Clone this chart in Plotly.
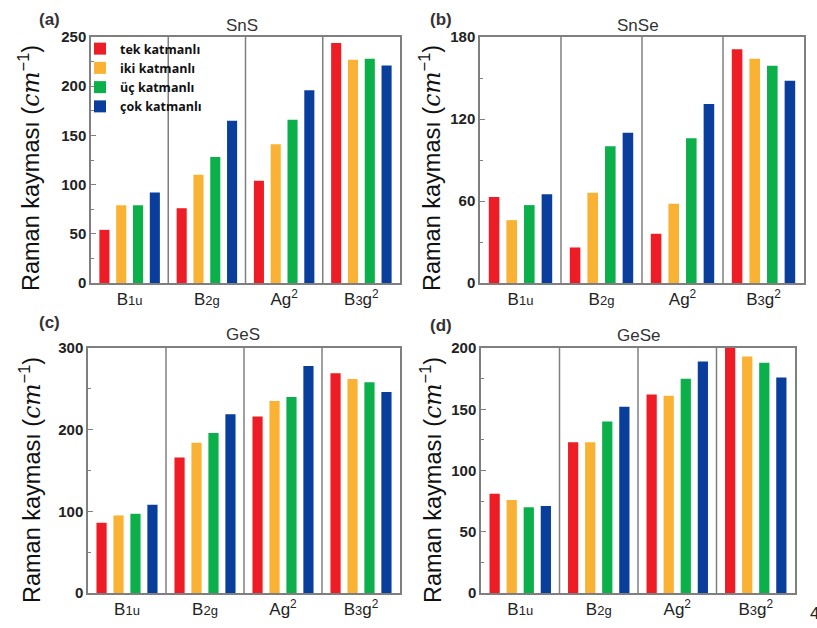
import plotly.graph_objects as go

categories = ["B1u", "B2g", "Ag2", "B3g2"]
tick_labels = ["B<span style='font-size:13px'>1u</span>",
               "B<span style='font-size:13px'>2g</span>",
               "Ag<sup>2</sup>",
               "B<span style='font-size:13px'>3</span>g<sup>2</sup>"]
series_names = ["tek katmanlı", "iki katmanlı", "üç katmanlı", "çok katmanlı"]
colors = ["#ee1c25", "#f9b233", "#0cb04a", "#0a3e9c"]

panel_titles = ["SnS", "SnSe", "GeS", "GeSe"]
panel_labels = ["(a)", "(b)", "(c)", "(d)"]

# values per panel: rows = series (tek, iki, üç, çok), columns = categories
sns_tek = [54, 76, 104, 244]
sns_iki = [79, 110, 141, 227]
sns_uc = [79, 128, 166, 228]
sns_cok = [92, 165, 196, 221]

snse_tek = [63, 26, 36, 171]
snse_iki = [46, 66, 58, 164]
snse_uc = [57, 100, 106, 159]
snse_cok = [65, 110, 131, 148]

ges_tek = [86, 166, 216, 269]
ges_iki = [95, 184, 235, 262]
ges_uc = [97, 196, 240, 258]
ges_cok = [108, 219, 278, 246]

gese_tek = [81, 123, 162, 200]
gese_iki = [76, 123, 161, 193]
gese_uc = [70, 140, 175, 188]
gese_cok = [71, 152, 189, 176]

panels = [
    [sns_tek, sns_iki, sns_uc, sns_cok],
    [snse_tek, snse_iki, snse_uc, snse_cok],
    [ges_tek, ges_iki, ges_uc, ges_cok],
    [gese_tek, gese_iki, gese_uc, gese_cok],
]
y_ranges = [[0, 250], [0, 180], [0, 300], [0, 200]]
y_dtick = [50, 60, 100, 50]
y_title = "Raman kayması (<span style='font-family:DejaVu Serif'><i>cm</i></span><sup>−1</sup>)"

W, H = 817, 628
# plot area boxes in page pixels (left, right, top, bottom)
boxes = [(91, 400, 37, 283), (480, 804, 37, 283), (88, 400, 348, 593), (481, 795, 348, 593)]
title_pos = [(242, 25), (638, 25), (243, 334), (638, 335)]
label_pos = [(37, 19), (428, 19), (37, 322), (428, 325)]
ytitle_pos = [(30, 168), (431, 168), (30, 480), (431, 480)]


def px(x):
    return x / W


def py(y):
    return 1 - y / H


fig = go.Figure()
frame_col = "#7f7f7f"
for i, data in enumerate(panels):
    n = i + 1
    xa = "x" if n == 1 else f"x{n}"
    ya = "y" if n == 1 else f"y{n}"
    for s, vals in enumerate(data):
        fig.add_trace(go.Bar(
            x=categories, y=vals, name=series_names[s],
            marker=dict(color=colors[s], line=dict(width=0)),
            xaxis=xa, yaxis=ya, showlegend=(i == 0), offsetgroup=str(s),
        ))
    l, r, t, b = boxes[i]
    xkey = "xaxis" if n == 1 else f"xaxis{n}"
    ykey = "yaxis" if n == 1 else f"yaxis{n}"
    fig.layout[xkey] = dict(
        domain=[px(l), px(r)], anchor=ya, range=[-0.5, 3.5],
        tickmode="array", tickvals=categories, ticktext=tick_labels,
        showline=True, linecolor=frame_col, linewidth=1.5, mirror=True,
        ticks="", showgrid=False, zeroline=False, automargin=False,
        tickfont=dict(family="Liberation Sans, Arial", size=17, color="#222"),
    )
    fig.layout[ykey] = dict(
        domain=[py(b), py(t)], anchor=xa, range=y_ranges[i],
        dtick=y_dtick[i], tick0=0, automargin=False,
        showline=True, linecolor=frame_col, linewidth=1.5, mirror=True,
        ticks="inside", ticklen=5, tickcolor=frame_col,
        minor=dict(dtick=y_dtick[i] / 2, ticks="inside", ticklen=3, tickcolor=frame_col),
        showgrid=False, zeroline=False,
        tickfont=dict(family="Liberation Sans, Arial", size=15, color="#222", weight="bold"),
    )
    # category dividers
    for xv in [0.5, 1.5, 2.5]:
        fig.add_shape(type="line", xref=xa, yref=f"{ya} domain", x0=xv, x1=xv, y0=0, y1=1,
                      line=dict(color=frame_col, width=1.5))
    # panel title
    tx, ty = title_pos[i]
    fig.add_annotation(text=panel_titles[i], xref="paper", yref="paper",
                       x=px(tx), y=py(ty), showarrow=False,
                       xanchor="center", yanchor="middle",
                       font=dict(family="Liberation Sans, Arial", size=17, color="#333"))
    lx, ly = label_pos[i]
    fig.add_annotation(text="<b>" + panel_labels[i] + "</b>", xref="paper", yref="paper",
                       x=px(lx), y=py(ly), showarrow=False,
                       xanchor="left", yanchor="middle",
                       font=dict(family="Liberation Sans, Arial", size=17, color="#333"))
    yx, yy = ytitle_pos[i]
    fig.add_annotation(text=y_title, xref="paper", yref="paper",
                       x=px(yx), y=py(yy), showarrow=False, textangle=-90,
                       xanchor="center", yanchor="middle",
                       font=dict(family="Liberation Sans, Arial", size=23.5, color="#111"))

fig.add_annotation(text="4", xref="paper", yref="paper", x=px(808), y=py(613),
                   showarrow=False, xanchor="left", yanchor="middle",
                   font=dict(family="Liberation Sans, Arial", size=17, color="#222"))

fig.update_layout(
    width=W, height=H, margin=dict(l=0, r=0, t=0, b=0),
    paper_bgcolor="white", plot_bgcolor="white",
    barmode="group", bargap=0.13, bargroupgap=0.4,
    legend=dict(x=px(80), y=py(34), xanchor="left", yanchor="top",
                bgcolor="rgba(0,0,0,0)", tracegroupgap=0, itemwidth=30,
                font=dict(family="Open Sans, Noto Sans", size=12.5, color="#111", weight="bold")),
)

fig.write_html("out.html", config={"displayModeBar": False},
               post_script="document.body.style.margin='0';document.body.style.overflow='hidden';")
